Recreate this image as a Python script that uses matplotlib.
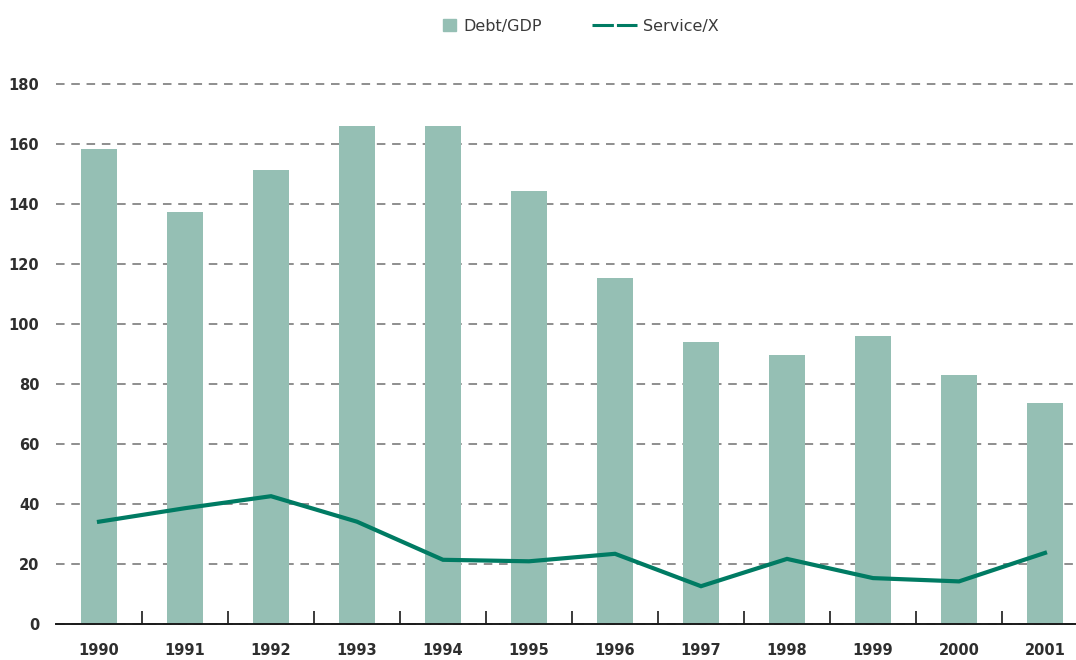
import numpy as np
import matplotlib
matplotlib.use("Agg")
import matplotlib.pyplot as plt
from matplotlib.lines import Line2D
from matplotlib.patches import Patch

# values
years = ["1990", "1991", "1992", "1993", "1994", "1995",
         "1996", "1997", "1998", "1999", "2000", "2001"]
debt_gdp = [158.2, 137.2, 151.2, 165.9, 165.9, 144.2,
            115.2, 93.9, 89.6, 95.9, 82.9, 73.6]
service_x = [34.1, 38.6, 42.6, 34.1, 21.4, 20.9,
             23.4, 12.6, 21.7, 15.3, 14.2, 23.7]
y_ticks = [0, 20, 40, 60, 80, 100, 120, 140, 160, 180]

bar_color = "#95bfb4"
line_color = "#007b63"
text_color = "#2e2e2e"

fig = plt.figure(figsize=(10.76, 6.6), dpi=100)
ax = fig.add_axes([56 / 1076, 1 - 624 / 660, 1 - 56 / 1076, 540 / 660])

x = np.arange(len(years))
ax.bar(x, debt_gdp, width=0.41, color=bar_color, zorder=2)
ax.plot(x, service_x, color=line_color, lw=3.0, solid_joinstyle="miter", zorder=3)

ax.set_xlim(-0.5, (1076 - 56) / 86 - 0.5)
ax.set_ylim(0, 180)

# dashed horizontal grid
ax.set_yticks(y_ticks)
ax.yaxis.grid(True, color="#707070", lw=1.1, linestyle=(0, (5.6, 4.4)), zorder=1)
ax.set_axisbelow(True)
for gl in ax.get_ygridlines():
    gl.set_clip_on(False)

for s in ["left", "right", "top"]:
    ax.spines[s].set_visible(False)
ax.spines["bottom"].set_color("#1a1a1a")
ax.spines["bottom"].set_linewidth(1.4)
ax.spines["bottom"].set_zorder(4)

ax.set_xticks(x)
ax.set_xticklabels(years)
ax.set_xticks(x[:-1] + 0.5, minor=True)
ax.tick_params(axis="x", which="major", length=0, pad=14)
ax.tick_params(axis="x", which="minor", direction="in", length=9.5, width=1.2, color="#1a1a1a")
ax.tick_params(axis="y", length=0, pad=12)
for lab in ax.get_xticklabels() + ax.get_yticklabels():
    lab.set_fontweight("bold")
    lab.set_fontsize(10.5)
    lab.set_color(text_color)

# legend: two separate entries so the square patch stays small
leg1 = fig.legend(handles=[Patch(color=bar_color, label="Debt/GDP")],
                  loc="center left", bbox_to_anchor=(443 / 1076, 1 - 26 / 660),
                  frameon=False, borderpad=0, borderaxespad=0,
                  handlelength=0.8, handleheight=0.8, handletextpad=0.45,
                  prop={"size": 11.5})
leg2 = fig.legend(handles=[Line2D([], [], color=line_color, lw=2.2,
                                  linestyle=(0, (7, 1)), label="Service/X")],
                  loc="center left", bbox_to_anchor=(592 / 1076, 1 - 26 / 660),
                  frameon=False, borderpad=0, borderaxespad=0,
                  handlelength=2.8, handletextpad=0.4,
                  prop={"size": 11.5})
for leg in (leg1, leg2):
    for t in leg.get_texts():
        t.set_color("#3a3a3a")

fig.savefig("out.png", dpi=100)
